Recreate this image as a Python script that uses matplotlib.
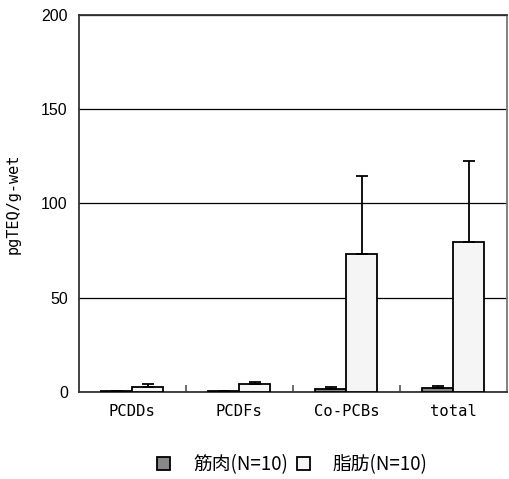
import matplotlib.pyplot as plt
import numpy as np

categories = ["PCDDs", "PCDFs", "Co-PCBs", "total"]
muscle_mean = [0.2, 0.2, 1.6, 1.9]
muscle_sd = [0.1, 0.1, 1.2, 1.4]
fat_mean = [2.8, 4.1, 73.0, 79.5]
fat_sd = [1.3, 1.2, 41.5, 43.0]
series_labels = ["筋肉(N=10)", "脂肪(N=10)"]

plt.rcParams['font.family'] = ['Liberation Sans', 'Noto Sans CJK JP', 'DejaVu Sans']

fig = plt.figure(figsize=(5.09, 4.79), dpi=100)
ax = fig.add_axes([0.155, 0.182, 0.841, 0.787])

x = np.arange(len(categories))
w = 0.29
err_kw = dict(ecolor="black", elinewidth=1.3, capsize=4.3, capthick=1.3)
b1 = ax.bar(x - w / 2, muscle_mean, w, color="#888888", edgecolor="black",
            linewidth=1.3, yerr=[np.zeros(len(x)), muscle_sd], error_kw=err_kw,
            label=series_labels[0], zorder=3)
b2 = ax.bar(x + w / 2, fat_mean, w, color="#f5f5f5", edgecolor="black",
            linewidth=1.3, yerr=[np.zeros(len(x)), fat_sd], error_kw=err_kw,
            label=series_labels[1], zorder=3)

ax.set_xlim(-0.5, len(categories) - 0.5)
ax.set_ylim(0, 200)
ax.set_yticks([0, 50, 100, 150, 200])
ax.yaxis.grid(True, color="black", linewidth=0.9)
ax.set_axisbelow(True)
ax.tick_params(axis="y", length=0, labelsize=11.5, pad=8)

ax.set_xticks(x)
ax.set_xticklabels(categories, family=["DejaVu Sans Mono"], fontsize=11.2)
ax.tick_params(axis="x", which="major", length=0, pad=9)
ax.set_xticks(x[:-1] + 0.5, minor=True)
ax.tick_params(axis="x", which="minor", direction="in", length=5,
               width=1.2, color="#555555")

ax.set_ylabel("pgTEQ/g-wet", family=["DejaVu Sans Mono"], fontsize=11, labelpad=15)

for s in ["left", "bottom", "top"]:
    ax.spines[s].set_color("#333333")
    ax.spines[s].set_linewidth(1.3)
ax.spines["right"].set_color("#777777")
ax.spines["right"].set_linewidth(1.3)

fig.legend(handles=[b1, b2], loc="center", bbox_to_anchor=(0.575, 0.03),
           ncol=2, frameon=False, handlelength=0.65,
           handleheight=0.65, handletextpad=1.25, columnspacing=0.5,
           prop={"family": ["Noto Sans CJK JP"], "size": 13.5})

fig.savefig("out.png", dpi=100)
